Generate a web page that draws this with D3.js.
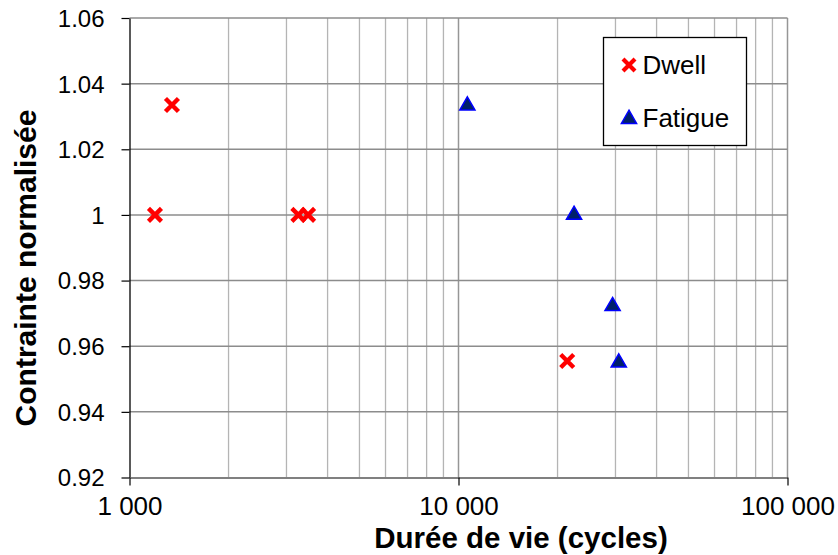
<!DOCTYPE html>
<html><head><meta charset="utf-8">
<script src="https://cdn.jsdelivr.net/npm/d3@7"></script>
<style>body{margin:0;background:#fff}svg{display:block;font-family:Arial,"Liberation Sans",sans-serif}</style>
</head><body>
<svg id="c" width="838" height="555"></svg>
<script>
const dwellLife = [1346, 1195, 3260, 3490, 21400];
const dwellStress = [1.0335, 1.0, 1.0, 1.0, 0.9555];
const fatigueLife = [10640, 22450, 29400, 30700];
const fatigueStress = [1.0333, 1.0, 0.9722, 0.955];
const xTicks = [1000, 10000, 100000];
const xTickLabels = ["1 000", "10 000", "100 000"];
const yTicks = [0.92, 0.94, 0.96, 0.98, 1.0, 1.02, 1.04, 1.06];
const yTickLabels = ["0.92", "0.94", "0.96", "0.98", "1", "1.02", "1.04", "1.06"];
const seriesNames = ["Dwell", "Fatigue"];
const xTitle = "Durée de vie (cycles)";
const yTitle = "Contrainte normalisée";

const svg = d3.select("#c");
const L = 129.5, R = 787.5, T = 18, B = 477.5;
const x = d3.scaleLog().domain([1000, 100000]).range([L, R]);
const y = d3.scaleLinear().domain([0.92, 1.06]).range([B, T]);

// minor vertical grid
const minor = [];
for (let d = 1000; d < 100000; d *= 10) for (let k = 2; k <= 9; k++) minor.push(d * k);
svg.append("g").selectAll("line").data(minor).join("line")
  .attr("x1", d => x(d)).attr("x2", d => x(d)).attr("y1", T).attr("y2", B)
  .attr("stroke", "#b4b4b4").attr("stroke-width", 1.3);
svg.append("g").selectAll("line").data(xTicks.slice(1)).join("line")
  .attr("x1", d => x(d)).attr("x2", d => x(d)).attr("y1", T).attr("y2", B)
  .attr("stroke", "#969696").attr("stroke-width", 1.5);
// horizontal grid
svg.append("g").selectAll("line").data(yTicks.slice(1)).join("line")
  .attr("x1", L).attr("x2", R).attr("y1", d => y(d)).attr("y2", d => y(d))
  .attr("stroke", "#8c8c8c").attr("stroke-width", 1.5);

// y axis
const yAxis = d3.axisLeft(y).tickValues(yTicks).tickSize(8).tickSizeOuter(0)
  .tickFormat((d, i) => yTickLabels[i]);
const gy = svg.append("g").attr("transform", `translate(${L},0)`).call(yAxis);
gy.select(".domain").attr("stroke", "#000").attr("stroke-width", 1.3);
gy.selectAll(".tick line").attr("stroke", "#000").attr("stroke-width", 1.2);
gy.selectAll(".tick text").attr("x", -25).attr("dy", "0.35em")
  .attr("font-size", 24).attr("fill", "#000").attr("font-family", "Arial, 'Liberation Sans', sans-serif");

// x axis
const xAxis = d3.axisBottom(x).tickValues(xTicks).tickSize(8).tickSizeOuter(0)
  .tickFormat((d, i) => xTickLabels[i]);
const gx = svg.append("g").attr("transform", `translate(0,${B})`).call(xAxis);
gx.select(".domain").attr("stroke", "#808080").attr("stroke-width", 2.2);
gx.selectAll(".tick line").attr("stroke", "#000").attr("stroke-width", 1.2);
gx.selectAll(".tick text").attr("y", 37.5).attr("dy", 0)
  .attr("font-size", 26).attr("fill", "#000").attr("font-family", "Arial, 'Liberation Sans', sans-serif");

// titles
svg.append("text").attr("x", 521).attr("y", 548).attr("text-anchor", "middle")
  .attr("font-size", 29.5).attr("font-weight", "bold").text(xTitle);
svg.append("text").attr("transform", "translate(36,268) rotate(-90)").attr("text-anchor", "middle")
  .attr("font-size", 30).attr("font-weight", "bold").text(yTitle);

const crossPath = "M-6.5,-6.5L6.5,6.5M-6.5,6.5L6.5,-6.5";
const tri = d3.symbol().type(d3.symbolTriangle).size(100)();

// data
svg.append("g").selectAll("path").data(dwellLife.map((v, i) => [v, dwellStress[i]])).join("path")
  .attr("transform", d => `translate(${x(d[0])},${y(d[1])})`)
  .attr("d", crossPath).attr("stroke", "#ff0000").attr("stroke-width", 4.4).attr("fill", "none");
svg.append("g").selectAll("path").data(fatigueLife.map((v, i) => [v, fatigueStress[i]])).join("path")
  .attr("transform", d => `translate(${x(d[0])},${y(d[1])})`)
  .attr("d", tri).attr("fill", "#00206a").attr("stroke", "#0000ff").attr("stroke-width", 1.5);

// legend
const lg = svg.append("g");
lg.append("rect").attr("x", 603.5).attr("y", 37.5).attr("width", 143).attr("height", 108)
  .attr("fill", "#fff").attr("stroke", "#000").attr("stroke-width", 1.3);
lg.append("path").attr("transform", "translate(629,65)").attr("d", "M-6,-6L6,6M-6,6L6,-6")
  .attr("stroke", "#ff0000").attr("stroke-width", 4.2).attr("fill", "none");
lg.append("path").attr("transform", "translate(629,119)").attr("d", tri)
  .attr("fill", "#00206a").attr("stroke", "#0000ff").attr("stroke-width", 1.5);
lg.append("text").attr("x", 642.5).attr("y", 73.5).attr("font-size", 26).text(seriesNames[0]);
lg.append("text").attr("x", 642.5).attr("y", 127).attr("font-size", 26).text(seriesNames[1]);
</script>
</body></html>
